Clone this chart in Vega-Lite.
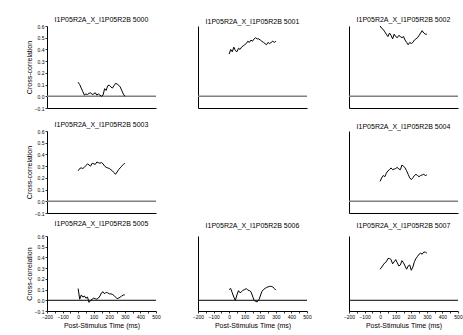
{
"$schema":"https://vega.github.io/schema/vega-lite/v6.json",
"background":"white",
"padding":{"left":25,"top":16,"right":2,"bottom":2},
"config":{"view":{"stroke":null},
"title":{"fontSize":7,"font":"Liberation Sans","fontWeight":"normal","offset":1,"anchor":"middle","color":"black"},
"axis":{"grid":false,"domainColor":"black","domainWidth":1,"tickColor":"black","tickWidth":0.8,"labelFont":"Liberation Sans","labelFontSize":5,"labelColor":"black","titleFont":"Liberation Sans","titleFontSize":7,"titleFontWeight":"normal","titleColor":"black","labelOverlap":false}},
"datasets":{"cc":[
{"p":5000,"t":0,"r":0.12},{"p":5000,"t":10,"r":0.10},{"p":5000,"t":20,"r":0.07},{"p":5000,"t":30,"r":0.04},{"p":5000,"t":40,"r":0.01},{"p":5000,"t":50,"r":0.02},{"p":5000,"t":60,"r":0.015},{"p":5000,"t":70,"r":0.025},{"p":5000,"t":80,"r":0.03},{"p":5000,"t":90,"r":0.015},{"p":5000,"t":100,"r":0.02},{"p":5000,"t":110,"r":0.03},{"p":5000,"t":120,"r":0.01},{"p":5000,"t":130,"r":0.02},{"p":5000,"t":140,"r":0.01},{"p":5000,"t":150,"r":0.0},{"p":5000,"t":160,"r":0.01},{"p":5000,"t":170,"r":0.065},{"p":5000,"t":180,"r":0.05},{"p":5000,"t":190,"r":0.09},{"p":5000,"t":200,"r":0.095},{"p":5000,"t":210,"r":0.08},{"p":5000,"t":220,"r":0.07},{"p":5000,"t":230,"r":0.09},{"p":5000,"t":240,"r":0.11},{"p":5000,"t":250,"r":0.105},{"p":5000,"t":260,"r":0.095},{"p":5000,"t":270,"r":0.08},{"p":5000,"t":280,"r":0.05},{"p":5000,"t":290,"r":0.02},{"p":5000,"t":300,"r":0.0},
{"p":5001,"t":0,"r":0.36},{"p":5001,"t":10,"r":0.40},{"p":5001,"t":20,"r":0.38},{"p":5001,"t":30,"r":0.42},{"p":5001,"t":40,"r":0.39},{"p":5001,"t":50,"r":0.38},{"p":5001,"t":60,"r":0.41},{"p":5001,"t":70,"r":0.40},{"p":5001,"t":80,"r":0.42},{"p":5001,"t":90,"r":0.43},{"p":5001,"t":100,"r":0.44},{"p":5001,"t":110,"r":0.45},{"p":5001,"t":120,"r":0.47},{"p":5001,"t":130,"r":0.46},{"p":5001,"t":140,"r":0.48},{"p":5001,"t":150,"r":0.47},{"p":5001,"t":160,"r":0.49},{"p":5001,"t":170,"r":0.50},{"p":5001,"t":180,"r":0.49},{"p":5001,"t":190,"r":0.49},{"p":5001,"t":200,"r":0.48},{"p":5001,"t":210,"r":0.47},{"p":5001,"t":220,"r":0.46},{"p":5001,"t":230,"r":0.45},{"p":5001,"t":240,"r":0.44},{"p":5001,"t":250,"r":0.46},{"p":5001,"t":260,"r":0.45},{"p":5001,"t":270,"r":0.46},{"p":5001,"t":280,"r":0.47},{"p":5001,"t":290,"r":0.46},{"p":5001,"t":300,"r":0.47},
{"p":5002,"t":0,"r":0.60},{"p":5002,"t":10,"r":0.58},{"p":5002,"t":20,"r":0.57},{"p":5002,"t":30,"r":0.55},{"p":5002,"t":40,"r":0.53},{"p":5002,"t":50,"r":0.51},{"p":5002,"t":60,"r":0.54},{"p":5002,"t":70,"r":0.52},{"p":5002,"t":80,"r":0.49},{"p":5002,"t":90,"r":0.53},{"p":5002,"t":100,"r":0.51},{"p":5002,"t":110,"r":0.50},{"p":5002,"t":120,"r":0.52},{"p":5002,"t":130,"r":0.51},{"p":5002,"t":140,"r":0.50},{"p":5002,"t":150,"r":0.51},{"p":5002,"t":160,"r":0.48},{"p":5002,"t":170,"r":0.46},{"p":5002,"t":180,"r":0.44},{"p":5002,"t":190,"r":0.46},{"p":5002,"t":200,"r":0.45},{"p":5002,"t":210,"r":0.46},{"p":5002,"t":220,"r":0.48},{"p":5002,"t":230,"r":0.49},{"p":5002,"t":240,"r":0.50},{"p":5002,"t":250,"r":0.52},{"p":5002,"t":260,"r":0.54},{"p":5002,"t":270,"r":0.56},{"p":5002,"t":280,"r":0.54},{"p":5002,"t":290,"r":0.53},{"p":5002,"t":300,"r":0.53},
{"p":5003,"t":0,"r":0.26},{"p":5003,"t":10,"r":0.28},{"p":5003,"t":20,"r":0.285},{"p":5003,"t":30,"r":0.28},{"p":5003,"t":40,"r":0.29},{"p":5003,"t":50,"r":0.305},{"p":5003,"t":60,"r":0.32},{"p":5003,"t":70,"r":0.31},{"p":5003,"t":80,"r":0.30},{"p":5003,"t":90,"r":0.325},{"p":5003,"t":100,"r":0.32},{"p":5003,"t":110,"r":0.315},{"p":5003,"t":120,"r":0.335},{"p":5003,"t":130,"r":0.33},{"p":5003,"t":140,"r":0.325},{"p":5003,"t":150,"r":0.33},{"p":5003,"t":160,"r":0.32},{"p":5003,"t":170,"r":0.30},{"p":5003,"t":180,"r":0.29},{"p":5003,"t":190,"r":0.285},{"p":5003,"t":200,"r":0.28},{"p":5003,"t":210,"r":0.27},{"p":5003,"t":220,"r":0.26},{"p":5003,"t":230,"r":0.245},{"p":5003,"t":240,"r":0.23},{"p":5003,"t":250,"r":0.25},{"p":5003,"t":260,"r":0.27},{"p":5003,"t":270,"r":0.285},{"p":5003,"t":280,"r":0.30},{"p":5003,"t":290,"r":0.315},{"p":5003,"t":300,"r":0.325},
{"p":5004,"t":0,"r":0.17},{"p":5004,"t":10,"r":0.20},{"p":5004,"t":20,"r":0.22},{"p":5004,"t":30,"r":0.21},{"p":5004,"t":40,"r":0.24},{"p":5004,"t":50,"r":0.26},{"p":5004,"t":60,"r":0.27},{"p":5004,"t":70,"r":0.285},{"p":5004,"t":80,"r":0.27},{"p":5004,"t":90,"r":0.275},{"p":5004,"t":100,"r":0.28},{"p":5004,"t":110,"r":0.29},{"p":5004,"t":120,"r":0.275},{"p":5004,"t":130,"r":0.27},{"p":5004,"t":140,"r":0.31},{"p":5004,"t":150,"r":0.30},{"p":5004,"t":160,"r":0.285},{"p":5004,"t":170,"r":0.26},{"p":5004,"t":180,"r":0.23},{"p":5004,"t":190,"r":0.20},{"p":5004,"t":200,"r":0.185},{"p":5004,"t":210,"r":0.20},{"p":5004,"t":220,"r":0.22},{"p":5004,"t":230,"r":0.23},{"p":5004,"t":240,"r":0.22},{"p":5004,"t":250,"r":0.21},{"p":5004,"t":260,"r":0.22},{"p":5004,"t":270,"r":0.225},{"p":5004,"t":280,"r":0.23},{"p":5004,"t":290,"r":0.22},{"p":5004,"t":300,"r":0.225},
{"p":5005,"t":0,"r":0.11},{"p":5005,"t":10,"r":0.01},{"p":5005,"t":20,"r":0.05},{"p":5005,"t":30,"r":0.03},{"p":5005,"t":40,"r":0.04},{"p":5005,"t":50,"r":0.02},{"p":5005,"t":60,"r":0.03},{"p":5005,"t":70,"r":-0.02},{"p":5005,"t":80,"r":0.0},{"p":5005,"t":90,"r":0.01},{"p":5005,"t":100,"r":0.02},{"p":5005,"t":110,"r":0.015},{"p":5005,"t":120,"r":0.01},{"p":5005,"t":130,"r":0.02},{"p":5005,"t":140,"r":0.04},{"p":5005,"t":150,"r":0.07},{"p":5005,"t":160,"r":0.08},{"p":5005,"t":170,"r":0.06},{"p":5005,"t":180,"r":0.075},{"p":5005,"t":190,"r":0.07},{"p":5005,"t":200,"r":0.06},{"p":5005,"t":210,"r":0.06},{"p":5005,"t":220,"r":0.055},{"p":5005,"t":230,"r":0.045},{"p":5005,"t":240,"r":0.03},{"p":5005,"t":250,"r":0.015},{"p":5005,"t":260,"r":0.02},{"p":5005,"t":270,"r":0.03},{"p":5005,"t":280,"r":0.04},{"p":5005,"t":290,"r":0.05},{"p":5005,"t":300,"r":0.05},
{"p":5006,"t":0,"r":0.10},{"p":5006,"t":10,"r":0.11},{"p":5006,"t":20,"r":0.07},{"p":5006,"t":30,"r":0.03},{"p":5006,"t":40,"r":0.0},{"p":5006,"t":50,"r":0.05},{"p":5006,"t":60,"r":0.09},{"p":5006,"t":70,"r":0.07},{"p":5006,"t":80,"r":0.08},{"p":5006,"t":90,"r":0.095},{"p":5006,"t":100,"r":0.10},{"p":5006,"t":110,"r":0.11},{"p":5006,"t":120,"r":0.095},{"p":5006,"t":130,"r":0.09},{"p":5006,"t":140,"r":0.08},{"p":5006,"t":150,"r":0.04},{"p":5006,"t":160,"r":0.0},{"p":5006,"t":170,"r":-0.01},{"p":5006,"t":180,"r":-0.015},{"p":5006,"t":190,"r":0.0},{"p":5006,"t":200,"r":0.04},{"p":5006,"t":210,"r":0.08},{"p":5006,"t":220,"r":0.10},{"p":5006,"t":230,"r":0.11},{"p":5006,"t":240,"r":0.12},{"p":5006,"t":250,"r":0.125},{"p":5006,"t":260,"r":0.13},{"p":5006,"t":270,"r":0.13},{"p":5006,"t":280,"r":0.125},{"p":5006,"t":290,"r":0.11},{"p":5006,"t":300,"r":0.095},
{"p":5007,"t":0,"r":0.29},{"p":5007,"t":10,"r":0.31},{"p":5007,"t":20,"r":0.33},{"p":5007,"t":30,"r":0.35},{"p":5007,"t":40,"r":0.36},{"p":5007,"t":50,"r":0.39},{"p":5007,"t":60,"r":0.39},{"p":5007,"t":70,"r":0.38},{"p":5007,"t":80,"r":0.34},{"p":5007,"t":90,"r":0.36},{"p":5007,"t":100,"r":0.38},{"p":5007,"t":110,"r":0.35},{"p":5007,"t":120,"r":0.32},{"p":5007,"t":130,"r":0.33},{"p":5007,"t":140,"r":0.37},{"p":5007,"t":150,"r":0.35},{"p":5007,"t":160,"r":0.32},{"p":5007,"t":170,"r":0.29},{"p":5007,"t":180,"r":0.32},{"p":5007,"t":190,"r":0.33},{"p":5007,"t":200,"r":0.28},{"p":5007,"t":210,"r":0.31},{"p":5007,"t":220,"r":0.36},{"p":5007,"t":230,"r":0.39},{"p":5007,"t":240,"r":0.41},{"p":5007,"t":250,"r":0.43},{"p":5007,"t":260,"r":0.44},{"p":5007,"t":270,"r":0.43},{"p":5007,"t":280,"r":0.45},{"p":5007,"t":290,"r":0.45},{"p":5007,"t":300,"r":0.44}
]},
"columns":3,
"bounds":"flush",
"spacing":{"row":23,"column":42},
"concat":[
{"width":109,"height":82,"title":"I1P05R2A_X_I1P05R2B 5000","layer":[
 {"data":{"values":[{"v":0}]},"mark":{"type":"rule","color":"#808080","strokeWidth":1.5},"encoding":{"y":{"field":"v","type":"quantitative","axis":{"title":"Cross-correlation","values":[-0.1,0,0.1,0.2,0.3,0.4,0.5,0.6],"format":".1f","tickSize":2,"labelPadding":1,"titlePadding":2,"labelFlush":false,"labelOverlap":false}}}},
 {"data":{"name":"cc"},"transform":[{"filter":"datum.p == 5000"}],"mark":{"type":"line","color":"black","strokeWidth":1},"encoding":{
  "x":{"field":"t","type":"quantitative","scale":{"domain":[-200,500],"nice":false},"axis":{"title":null,"labels":false,"ticks":false}},
  "y":{"field":"r","type":"quantitative","scale":{"domain":[-0.1,0.6],"nice":false,"zero":false},"axis":{"title":"Cross-correlation","values":[-0.1,0,0.1,0.2,0.3,0.4,0.5,0.6],"format":".1f","tickSize":2,"labelPadding":1,"titlePadding":2,"labelFlush":false,"labelOverlap":false}}}}]},
{"width":109,"height":82,"title":"I1P05R2A_X_I1P05R2B 5001","layer":[
 {"data":{"values":[{"v":0}]},"mark":{"type":"rule","color":"#808080","strokeWidth":1.5},"encoding":{"y":{"field":"v","type":"quantitative"}}},
 {"data":{"name":"cc"},"transform":[{"filter":"datum.p == 5001"}],"mark":{"type":"line","color":"black","strokeWidth":1},"encoding":{
  "x":{"field":"t","type":"quantitative","scale":{"domain":[-200,500],"nice":false},"axis":{"title":null,"labels":false,"ticks":false}},
  "y":{"field":"r","type":"quantitative","scale":{"domain":[-0.1,0.6],"nice":false,"zero":false},"axis":{"title":null,"labels":false,"ticks":false}}}}]},
{"width":109,"height":82,"title":"I1P05R2A_X_I1P05R2B 5002","layer":[
 {"data":{"values":[{"v":0}]},"mark":{"type":"rule","color":"#808080","strokeWidth":1.5},"encoding":{"y":{"field":"v","type":"quantitative"}}},
 {"data":{"name":"cc"},"transform":[{"filter":"datum.p == 5002"}],"mark":{"type":"line","color":"black","strokeWidth":1},"encoding":{
  "x":{"field":"t","type":"quantitative","scale":{"domain":[-200,500],"nice":false},"axis":{"title":null,"labels":false,"ticks":false}},
  "y":{"field":"r","type":"quantitative","scale":{"domain":[-0.1,0.6],"nice":false,"zero":false},"axis":{"title":null,"labels":false,"ticks":false}}}}]},
{"width":109,"height":82,"title":"I1P05R2A_X_I1P05R2B 5003","layer":[
 {"data":{"values":[{"v":0}]},"mark":{"type":"rule","color":"#808080","strokeWidth":1.5},"encoding":{"y":{"field":"v","type":"quantitative","axis":{"title":"Cross-correlation","values":[-0.1,0,0.1,0.2,0.3,0.4,0.5,0.6],"format":".1f","tickSize":2,"labelPadding":1,"titlePadding":2,"labelFlush":false,"labelOverlap":false}}}},
 {"data":{"name":"cc"},"transform":[{"filter":"datum.p == 5003"}],"mark":{"type":"line","color":"black","strokeWidth":1},"encoding":{
  "x":{"field":"t","type":"quantitative","scale":{"domain":[-200,500],"nice":false},"axis":{"title":null,"labels":false,"ticks":false}},
  "y":{"field":"r","type":"quantitative","scale":{"domain":[-0.1,0.6],"nice":false,"zero":false},"axis":{"title":"Cross-correlation","values":[-0.1,0,0.1,0.2,0.3,0.4,0.5,0.6],"format":".1f","tickSize":2,"labelPadding":1,"titlePadding":2,"labelFlush":false,"labelOverlap":false}}}}]},
{"width":109,"height":82,"data":{"values":[{}]},"mark":{"type":"point","opacity":0},"encoding":{}},
{"width":109,"height":82,"title":"I1P05R2A_X_I1P05R2B 5004","layer":[
 {"data":{"values":[{"v":0}]},"mark":{"type":"rule","color":"#808080","strokeWidth":1.5},"encoding":{"y":{"field":"v","type":"quantitative"}}},
 {"data":{"name":"cc"},"transform":[{"filter":"datum.p == 5004"}],"mark":{"type":"line","color":"black","strokeWidth":1},"encoding":{
  "x":{"field":"t","type":"quantitative","scale":{"domain":[-200,500],"nice":false},"axis":{"title":null,"labels":false,"ticks":false}},
  "y":{"field":"r","type":"quantitative","scale":{"domain":[-0.1,0.6],"nice":false,"zero":false},"axis":{"title":null,"labels":false,"ticks":false}}}}]},
{"width":109,"height":75,"title":{"text":"I1P05R2A_X_I1P05R2B 5005","offset":7},"layer":[
 {"data":{"values":[{"v":0}]},"mark":{"type":"rule","color":"black","strokeWidth":1},"encoding":{"y":{"field":"v","type":"quantitative","axis":{"title":"Cross-correlation","values":[-0.1,0,0.1,0.2,0.3,0.4,0.5,0.6],"format":".1f","tickSize":2,"labelPadding":1,"titlePadding":2,"labelFlush":false,"labelOverlap":false}}}},
 {"data":{"name":"cc"},"transform":[{"filter":"datum.p == 5005"}],"mark":{"type":"line","color":"black","strokeWidth":1},"encoding":{
  "x":{"field":"t","type":"quantitative","scale":{"domain":[-200,500],"nice":false},"axis":{"title":"Post-Stimulus Time (ms)","values":[-200,-150,-100,-50,0,50,100,150,200,250,300,350,400,450,500],"labelExpr":"datum.value % 100 === 0 ? datum.label : ''","tickSize":2,"labelPadding":1,"titlePadding":2,"labelFlush":false,"labelOverlap":false}},
  "y":{"field":"r","type":"quantitative","scale":{"domain":[-0.1,0.6],"nice":false,"zero":false},"axis":{"title":"Cross-correlation","values":[-0.1,0,0.1,0.2,0.3,0.4,0.5,0.6],"format":".1f","tickSize":2,"labelPadding":1,"titlePadding":2,"labelFlush":false,"labelOverlap":false}}}}]},
{"width":109,"height":75,"title":{"text":"I1P05R2A_X_I1P05R2B 5006","offset":7},"layer":[
 {"data":{"values":[{"v":0}]},"mark":{"type":"rule","color":"black","strokeWidth":1},"encoding":{"y":{"field":"v","type":"quantitative"}}},
 {"data":{"name":"cc"},"transform":[{"filter":"datum.p == 5006"}],"mark":{"type":"line","color":"black","strokeWidth":1},"encoding":{
  "x":{"field":"t","type":"quantitative","scale":{"domain":[-200,500],"nice":false},"axis":{"title":"Post-Stimulus Time (ms)","values":[-200,-150,-100,-50,0,50,100,150,200,250,300,350,400,450,500],"labelExpr":"datum.value % 100 === 0 ? datum.label : ''","tickSize":2,"labelPadding":1,"titlePadding":2,"labelFlush":false,"labelOverlap":false}},
  "y":{"field":"r","type":"quantitative","scale":{"domain":[-0.1,0.6],"nice":false,"zero":false},"axis":{"title":null,"labels":false,"ticks":false}}}}]},
{"width":109,"height":75,"title":{"text":"I1P05R2A_X_I1P05R2B 5007","offset":7},"layer":[
 {"data":{"values":[{"v":0}]},"mark":{"type":"rule","color":"black","strokeWidth":1},"encoding":{"y":{"field":"v","type":"quantitative"}}},
 {"data":{"name":"cc"},"transform":[{"filter":"datum.p == 5007"}],"mark":{"type":"line","color":"black","strokeWidth":1},"encoding":{
  "x":{"field":"t","type":"quantitative","scale":{"domain":[-200,500],"nice":false},"axis":{"title":"Post-Stimulus Time (ms)","values":[-200,-150,-100,-50,0,50,100,150,200,250,300,350,400,450,500],"labelExpr":"datum.value % 100 === 0 ? datum.label : ''","tickSize":2,"labelPadding":1,"titlePadding":2,"labelFlush":false,"labelOverlap":false}},
  "y":{"field":"r","type":"quantitative","scale":{"domain":[-0.1,0.6],"nice":false,"zero":false},"axis":{"title":null,"labels":false,"ticks":false}}}}]}
]
}
